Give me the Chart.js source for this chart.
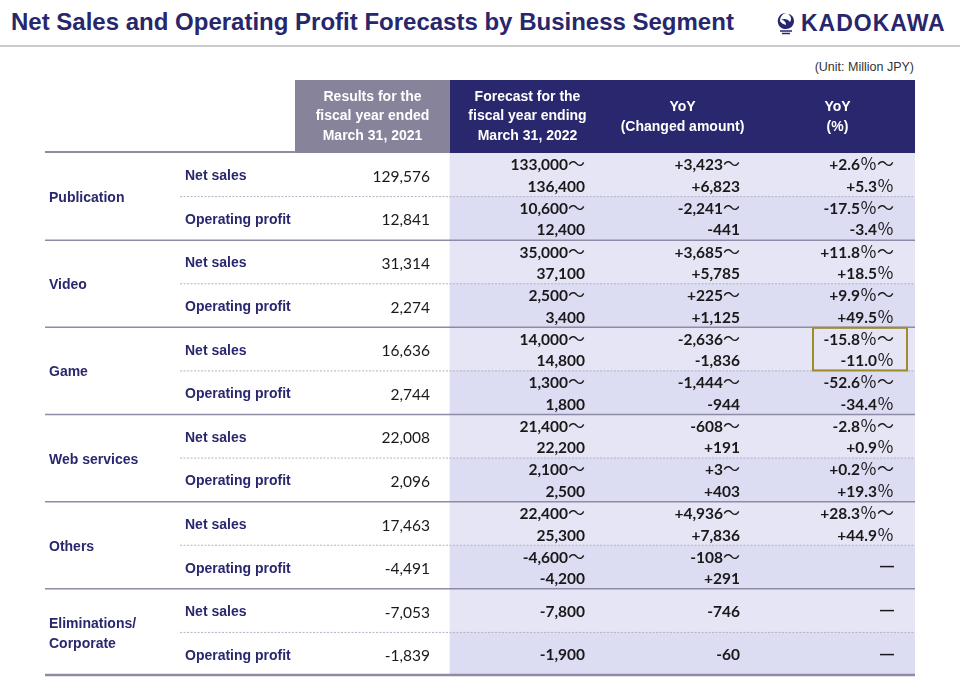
<!DOCTYPE html>
<html><head><meta charset="utf-8">
<script src="https://cdn.jsdelivr.net/npm/chart.js@4/dist/chart.umd.min.js"></script>
<style>
html,body{margin:0;padding:0;background:#fff;width:960px;height:698px;overflow:hidden;position:relative;font-family:"Liberation Sans",Arial,sans-serif;}
#title{position:absolute;left:11px;top:10px;font-size:24px;line-height:24px;font-weight:bold;color:#28266c;white-space:nowrap;}
#rule{position:absolute;left:0;top:45px;width:960px;height:2px;background:#cbcbcb;}
#logo{position:absolute;left:776px;top:9px;height:28px;display:flex;align-items:center;}
#logo span{font-size:23px;font-weight:bold;color:#28266c;letter-spacing:1px;margin-left:5px;}
#unit{position:absolute;right:46px;top:60px;font-size:12.5px;line-height:14px;color:#333;}
#wrap{position:absolute;left:45px;top:80px;width:870px;height:598px;}
</style></head>
<body>
<div id="title">Net Sales and Operating Profit Forecasts by Business Segment</div>
<div id="logo"><svg width="20" height="24" viewBox="0 0 20 24"><path d="M10 2 C4 2 1 7 2 12 C3 16 6 18 10 18 C14 18 18 15 18 10 C18 6 15 3 12 3 C15 5 16 8 14 11 C12 8 8 7 5 9 C8 9 10 11 10 14 C7 13 5 12 4 10 C4 6 6 3 10 2Z" fill="#28266c"/><path d="M4 20 L16 20 M6 22.5 L14 22.5" stroke="#28266c" stroke-width="1.3"/></svg><span>KADOKAWA</span></div>
<div id="rule"></div>
<div id="unit">(Unit: Million JPY)</div>
<div id="wrap"><canvas id="c"></canvas></div>
<script>
// ---- data ----
const segments = ['Publication', 'Video', 'Game', 'Web services', 'Others', 'Eliminations/\nCorporate'];
const items = ['Net sales', 'Operating profit'];
const headers = ['Results for the\nfiscal year ended\nMarch 31, 2021', 'Forecast for the\nfiscal year ending\nMarch 31, 2022', 'YoY\n(Changed amount)', 'YoY\n(%)'];
const results2021   = [129576, 12841, 31314, 2274, 16636, 2744, 22008, 2096, 17463, -4491, -7053, -1839];
const forecastLow   = [133000, 10600, 35000, 2500, 14000, 1300, 21400, 2100, 22400, -4600, -7800, -1900];
const forecastHigh  = [136400, 12400, 37100, 3400, 14800, 1800, 22200, 2500, 25300, -4200, null, null];
const yoyAmountLow  = [3423, -2241, 3685, 225, -2636, -1444, -608, 3, 4936, -108, -746, -60];
const yoyAmountHigh = [6823, -441, 5785, 1125, -1836, -944, 191, 403, 7836, 291, null, null];
const yoyPctLow     = [2.6, -17.5, 11.8, 9.9, -15.8, -52.6, -2.8, 0.2, 28.3, null, null, null];
const yoyPctHigh    = [5.3, -3.4, 18.5, 49.5, -11.0, -34.4, 0.9, 19.3, 44.9, null, null, null];
const highlightRow = 4;

// ---- layout / style ----
const rowLabels = segments.flatMap(s => items.map(it => s.replace('\n', ' ') + ' / ' + it));
const COL = [0, 135, 250, 405, 560, 715, 870];
const NAVY = '#29276d', GRAYHEAD = '#86839b', LINE = '#8d8ba5', DOT = '#b4b4c6', INK = '#1a1818';
const LABEL_FONT = 'bold 14px "Liberation Sans", Arial, sans-serif';
const NUM_B = 'bold 15.5px Lato, sans-serif';
const NUM_R = '15.5px Lato, sans-serif';
const CJK = '17px "Noto Sans CJK JP", sans-serif';
const DASH_FONT = 'bold 14px "Liberation Sans", Arial, sans-serif';

const fmt = v => v.toLocaleString('en-US');
const sgn = v => (v > 0 ? '+' : '') + fmt(v);
const pctNum = v => (v > 0 ? '+' : '') + v.toFixed(1);

const tablePlugin = {
  id: 'table',
  afterDatasetsDraw(chart) {
    const {ctx, chartArea: a, scales: {x, y}} = chart;
    const X = v => x.getPixelForValue(v);
    const rowH = y.getPixelForValue(1) - y.getPixelForValue(0);
    const rc = i => y.getPixelForValue(i);
    ctx.save();
    // header
    ctx.fillStyle = GRAYHEAD; ctx.fillRect(X(COL[2]), 0, X(COL[3]) - X(COL[2]), a.top);
    ctx.fillStyle = NAVY; ctx.fillRect(X(COL[3]), 0, X(COL[6]) - X(COL[3]), a.top);
    ctx.strokeStyle = LINE; ctx.lineWidth = 2;
    ctx.beginPath(); ctx.moveTo(X(COL[0]), a.top - 1); ctx.lineTo(X(COL[2]), a.top - 1); ctx.stroke();
    ctx.fillStyle = '#fff'; ctx.font = LABEL_FONT; ctx.textAlign = 'center'; ctx.textBaseline = 'middle';
    headers.forEach((h, k) => {
      const lines = h.split('\n');
      const cx = (X(COL[k + 2]) + X(COL[k + 3])) / 2;
      const lh = 19.5;
      const y0 = a.top / 2 - (lines.length - 1) * lh / 2 + (lines.length === 2 ? 0.5 : 0);
      lines.forEach((l, j) => ctx.fillText(l, cx, y0 + j * lh));
    });
    // grid lines
    for (let i = 1; i < rowLabels.length; i++) {
      const yb = a.top + i * rowH;
      ctx.beginPath();
      if (i % 2 === 0) {
        ctx.setLineDash([]); ctx.strokeStyle = LINE; ctx.lineWidth = 1.5;
        ctx.moveTo(X(COL[0]), yb); ctx.lineTo(X(COL[6]), yb);
      } else {
        ctx.setLineDash([2, 1.5]); ctx.strokeStyle = DOT; ctx.lineWidth = 1;
        ctx.moveTo(X(COL[1]), yb); ctx.lineTo(X(COL[6]), yb);
      }
      ctx.stroke();
    }
    ctx.setLineDash([]); ctx.strokeStyle = LINE; ctx.lineWidth = 2.5;
    ctx.beginPath(); ctx.moveTo(X(COL[0]), a.bottom - 1); ctx.lineTo(X(COL[6]), a.bottom - 1); ctx.stroke();

    // labels
    ctx.fillStyle = NAVY; ctx.font = LABEL_FONT; ctx.textAlign = 'left'; ctx.textBaseline = 'alphabetic';
    const cap = 14 * 0.716;
    segments.forEach((s, k) => {
      const lines = s.split('\n');
      const cy = a.top + (2 * k + 1) * rowH;
      lines.forEach((l, j) => ctx.fillText(l, X(COL[0]) + 4, cy + (j - (lines.length - 1) / 2) * 19.5 + cap / 2 + 0.5));
    });
    rowLabels.forEach((_, i) => ctx.fillText(items[i % 2], X(COL[1]) + 5, rc(i) + cap / 2 + 0.5));

    // numbers: parts drawn right-to-left, each with its own font
    const ncap = 15.5 * 0.7165;
    const drawParts = (parts, xr, cyDigit) => {
      ctx.textAlign = 'left';
      let w = 0;
      parts.forEach(([t, f]) => { ctx.font = f; w += ctx.measureText(t).width; });
      let xx = xr - w;
      parts.forEach(([t, f]) => {
        ctx.font = f;
        ctx.fillText(t, xx, cyDigit + ncap / 2);
        xx += ctx.measureText(t).width;
      });
    };
    ctx.fillStyle = INK;
    rowLabels.forEach((_, i) => {
      const c = rc(i);
      drawParts([[fmt(results2021[i]), NUM_R]], X(COL[3]) - 20, c + 1.5);
      const pair = (lo, hi, col, f) => {
        const xr = X(COL[col]) - 20;
        if (hi === null) drawParts([[f(lo), NUM_B]], xr, c + 0.5);
        else {
          drawParts([[f(lo), NUM_B], ['〜', CJK]], xr, c - 10);
          drawParts([[f(hi), NUM_B]], xr, c + 11.5);
        }
      };
      pair(forecastLow[i], forecastHigh[i], 4, fmt);
      pair(yoyAmountLow[i], yoyAmountHigh[i], 5, sgn);
      const xr = X(COL[6]) - 21;
      if (yoyPctLow[i] === null) {
        ctx.font = DASH_FONT; ctx.textAlign = 'right'; ctx.textBaseline = 'middle';
        ctx.fillText('—', xr, c + 0.5);
        ctx.textBaseline = 'alphabetic';
      } else {
        drawParts([[pctNum(yoyPctLow[i]), NUM_B], ['％〜', CJK]], xr, c - 10);
        drawParts([[pctNum(yoyPctHigh[i]), NUM_B], ['％', CJK]], xr, c + 11.5);
      }
    });
    // highlight box
    ctx.strokeStyle = '#a08b2c'; ctx.lineWidth = 2;
    const top = rc(highlightRow) - rowH / 2, bot = rc(highlightRow) + rowH / 2;
    ctx.strokeRect(X(COL[5]) + 53, top + 0.5, (X(COL[6]) - 8) - (X(COL[5]) + 53), bot - top - 1);
    ctx.restore();
  }
};

new Chart(document.getElementById('c'), {
  type: 'bar',
  data: {
    labels: rowLabels,
    datasets: [{
      label: 'Forecast / YoY',
      data: rowLabels.map(() => [COL[3], COL[6]]),
      backgroundColor: rowLabels.map((_, i) => i % 2 ? '#dcdcf2' : '#e5e5f5'),
      borderWidth: 0,
      barPercentage: 1,
      categoryPercentage: 1
    }]
  },
  options: {
    indexAxis: 'y',
    responsive: true,
    maintainAspectRatio: false,
    animation: false,
    layout: {padding: {top: 73, bottom: 2, left: 0, right: 0}},
    scales: {
      x: {type: 'linear', min: COL[0], max: COL[6], display: false},
      y: {type: 'category', display: false, offset: true}
    },
    plugins: {legend: {display: false}, tooltip: {enabled: false}}
  },
  plugins: [tablePlugin]
});
</script>
</body></html>
